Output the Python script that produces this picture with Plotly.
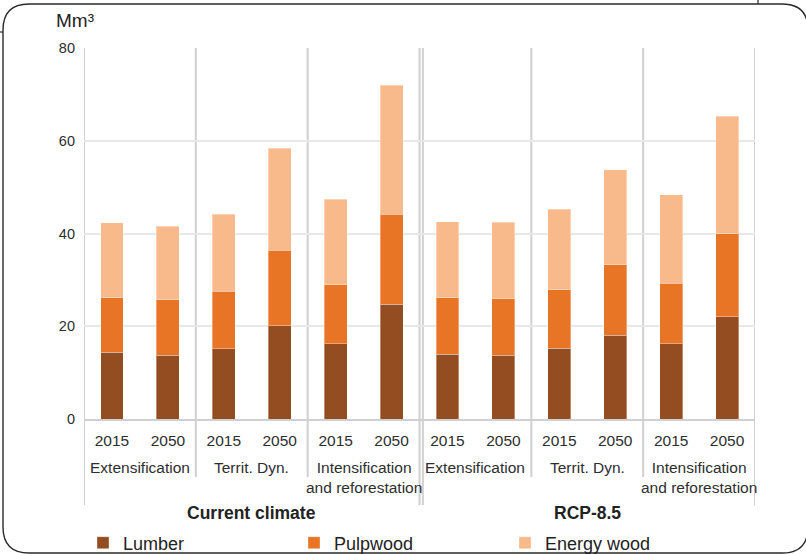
import plotly.graph_objects as go

# ---- data ----
climates = ["Current climate", "RCP-8.5"]
scenarios = ["Extensification", "Territ. Dyn.", "Intensification<br>and reforestation"]
years = ["2015", "2050"]
lumber = [14.4, 13.8, 15.2, 20.1, 16.2, 24.7, 14.0, 13.7, 15.3, 18.1, 16.2, 22.0]
pulpwood = [11.8, 11.9, 12.3, 16.3, 12.7, 19.5, 12.1, 12.2, 12.6, 15.2, 13.1, 17.9]
energy_wood = [16.1, 15.9, 16.6, 22.0, 18.5, 27.8, 16.4, 16.5, 17.3, 20.5, 19.1, 25.4]
series_names = ["Lumber", "Pulpwood", "Energy wood"]
y_ticks = [0, 20, 40, 60, 80]

colors = ["#944d21", "#e87426", "#f8b98b"]
FONT = "Liberation Sans, Arial, sans-serif"

W, H = 806, 554
L, R, T, B = 84, 51, 48, 135
PW, PH = W - L - R, H - T - B

def px(xp):
    return (xp - L) / PW

def py(yp):
    return (H - B - yp) / PH

n = len(climates) * len(scenarios) * len(years)
xpos = list(range(n))
tick_text = [years[i % len(years)] for i in range(n)]

fig = go.Figure()
for name, vals, c in zip(series_names, [lumber, pulpwood, energy_wood], colors):
    fig.add_trace(go.Bar(
        x=xpos, y=vals, name=name, width=0.41,
        marker=dict(color=c, line=dict(color="rgba(255,255,255,0.35)", width=1)),
    ))

shapes = []
# group separators
ng = len(scenarios) * len(years)
for k in range(len(climates) * len(scenarios) + 1):
    xv = -0.5 + k * len(years)
    outer = (k % len(scenarios) == 0)
    ybot = py(505) if outer else py(477)
    shapes.append(dict(type="line", xref="x", yref="paper", x0=xv, x1=xv, y0=1, y1=ybot,
                       line=dict(color="#d0d0d0", width=2), layer="below"))
    if outer and 0 < k < len(climates) * len(scenarios):
        shapes.append(dict(type="line", xref="x", yref="paper", x0=xv + 0.06, x1=xv + 0.06,
                           y0=1, y1=ybot, line=dict(color="#d0d0d0", width=2), layer="below"))

# rounded page border (decoration)
x0b, x1b, y0b, y1b, r = 3, 808, 4, 553, 26
path = (f"M {px(x0b + r)},{py(y0b)} L {px(x1b - r)},{py(y0b)} "
        f"Q {px(x1b)},{py(y0b)} {px(x1b)},{py(y0b + r)} "
        f"L {px(x1b)},{py(y1b - r)} Q {px(x1b)},{py(y1b)} {px(x1b - r)},{py(y1b)} "
        f"L {px(x0b + r)},{py(y1b)} Q {px(x0b)},{py(y1b)} {px(x0b)},{py(y1b - r)} "
        f"L {px(x0b)},{py(y0b + r)} Q {px(x0b)},{py(y0b)} {px(x0b + r)},{py(y0b)} Z")
shapes.append(dict(type="path", xref="paper", yref="paper", path=path,
                   line=dict(color="#2a2a2a", width=1.4)))
shapes.append(dict(type="line", xref="paper", yref="paper", x0=px(0), x1=px(3), y0=py(32), y1=py(32),
                   line=dict(color="#2a2a2a", width=1.2)))
shapes.append(dict(type="line", xref="paper", yref="paper", x0=px(758), x1=px(758), y0=py(0), y1=py(4),
                   line=dict(color="#2a2a2a", width=1.2)))

annotations = []
# scenario labels
for ci in range(len(climates)):
    for si, s in enumerate(scenarios):
        center = ci * ng + si * len(years) + (len(years) - 1) / 2
        annotations.append(dict(x=center, xref="x", y=py(457), yref="paper", text=s,
                                showarrow=False, yanchor="top", xanchor="center",
                                font=dict(family=FONT, size=15.5, color="#2e2e2e")))
    annotations.append(dict(x=ci * ng + (ng - 1) / 2, xref="x", y=py(513), yref="paper",
                            text=f"<b>{climates[ci]}</b>", showarrow=False, yanchor="middle",
                            font=dict(family=FONT, size=17.5, color="#222222")))
annotations.append(dict(x=px(75), xref="paper", y=py(21), yref="paper", text="Mm³",
                        showarrow=False, yanchor="middle", xanchor="center",
                        font=dict(family=FONT, size=19, color="#222222")))

fig.update_layout(
    width=W, height=H, autosize=False,
    margin=dict(l=L, r=R, t=T, b=B, pad=0, autoexpand=False),
    paper_bgcolor="white", plot_bgcolor="white",
    barmode="stack",
    font=dict(family=FONT, color="#2e2e2e"),
    shapes=shapes, annotations=annotations,
    xaxis=dict(range=[-0.5, n - 0.5], tickmode="array", tickvals=xpos, ticktext=tick_text,
               showgrid=False, zeroline=False, showline=True, linecolor="#d0d0d0", linewidth=2,
               ticks="", ticklabelstandoff=6, tickfont=dict(family=FONT, size=15.5, color="#2e2e2e")),
    yaxis=dict(range=[0, 80], tickmode="array", tickvals=y_ticks, showgrid=True,
               gridcolor="#e8e8e8", gridwidth=1.5, zeroline=False, showline=False, ticks="",
               ticklabelstandoff=8, tickfont=dict(family=FONT, size=14.5, color="#2e2e2e")),
    legend=dict(orientation="h", x=px(83), xanchor="left", y=py(543), yanchor="middle",
                entrywidth=166, entrywidthmode="pixels", traceorder="normal",
                font=dict(family=FONT, size=18, color="#222222"), bgcolor="rgba(0,0,0,0)"),
    showlegend=True,
)

fig.write_html("out.html", config={"displayModeBar": False},
               post_script="document.body.style.margin='0';document.body.style.overflow='hidden';")
